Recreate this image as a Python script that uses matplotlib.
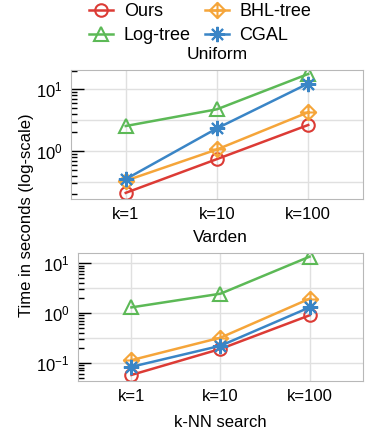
import numpy as np
import matplotlib
matplotlib.use('Agg')
import matplotlib.pyplot as plt
from matplotlib.path import Path
from matplotlib.ticker import LogLocator, NullFormatter

plt.rcParams['font.family'] = ['Liberation Sans', 'DejaVu Sans']
plt.rcParams['font.size'] = 12

# data
k_labels = ['k=1', 'k=10', 'k=100']

uniform_ours = [0.21, 0.74, 2.64]
uniform_log = [2.54, 4.74, 17.7]
uniform_bhl = [0.33, 1.06, 4.24]
uniform_cgal = [0.35, 2.33, 12.4]

varden_ours = [0.057, 0.19, 0.90]
varden_log = [1.30, 2.45, 13.6]
varden_bhl = [0.113, 0.32, 1.94]
varden_cgal = [0.083, 0.22, 1.30]

colors = {'Ours': '#dc3b35', 'Log-tree': '#5cb956',
          'BHL-tree': '#f5a53a', 'CGAL': '#3a85c6'}

# diamond with a plus inside
diamond_plus = Path(
    [(0, 1), (1, 0), (0, -1), (-1, 0), (0, 1), (0, 1), (0, -1), (-1, 0), (1, 0)],
    [Path.MOVETO, Path.LINETO, Path.LINETO, Path.LINETO, Path.CLOSEPOLY,
     Path.MOVETO, Path.LINETO, Path.MOVETO, Path.LINETO])

markers = {'Ours': 'o', 'Log-tree': '^', 'BHL-tree': diamond_plus, 'CGAL': (8, 2, 0)}
msizes = {'Ours': 9, 'Log-tree': 10, 'BHL-tree': 11, 'CGAL': 11}

fig = plt.figure(figsize=(3.69, 4.36), dpi=100)
ax1 = fig.add_axes([0.1924, 0.5436, 0.7913, 0.2958])
ax2 = fig.add_axes([0.2114, 0.1261, 0.7723, 0.2936])

datasets = [
    (ax1, 'Uniform', {'Ours': uniform_ours, 'Log-tree': uniform_log,
                      'BHL-tree': uniform_bhl, 'CGAL': uniform_cgal}, (0.167, 20.5)),
    (ax2, 'Varden', {'Ours': varden_ours, 'Log-tree': varden_log,
                     'BHL-tree': varden_bhl, 'CGAL': varden_cgal}, (0.043, 16.1)),
]

x = np.arange(len(k_labels))
handles = []
for ax, title, vals, ylim in datasets:
    hs = []
    for m in ['Ours', 'BHL-tree', 'Log-tree', 'CGAL']:
        h, = ax.plot(x, vals[m], color=colors[m], marker=markers[m], ms=msizes[m],
                     mfc='none', mec=colors[m], mew=1.5, lw=1.8, label=m)
        hs.append(h)
    handles = hs
    ax.set_yscale('log')
    ax.set_ylim(*ylim)
    ax.set_xlim(-0.6, 2.6)
    ax.set_xticks(x)
    ax.set_xticklabels(k_labels)
    ax.set_title(title, pad=8, fontsize=12.5)
    ax.yaxis.set_major_locator(LogLocator(base=10, numticks=10))
    ax.yaxis.set_minor_locator(LogLocator(base=10, subs=np.arange(2, 10), numticks=10))
    ax.yaxis.set_minor_formatter(NullFormatter())
    ax.tick_params(axis='y', which='major', direction='in', length=9, width=1, color='black', pad=6)
    ax.tick_params(axis='y', which='minor', direction='in', length=4, width=1, color='black')
    ax.tick_params(axis='x', which='both', length=0, pad=6)
    ax.grid(True, which='major', color='#e0e0e0', lw=1)
    lo, hi = np.floor(np.log10(ylim[0])), np.ceil(np.log10(ylim[1]))
    for e in np.arange(lo, hi) + 0.5:
        ax.axhline(10 ** e, color='#e0e0e0', lw=1, zorder=0)
    ax.set_axisbelow(True)
    for s in ax.spines.values():
        s.set_color('#b8b8b8')

ax2.set_xlabel('k-NN search', labelpad=8)
fig.text(0.073, 0.507, 'Time in seconds (log-scale)', rotation=90, ha='center', va='center')

order = [0, 2, 1, 3]
fig.legend([handles[i] for i in order], [handles[i].get_label() for i in order],
           loc='upper center', bbox_to_anchor=(0.543, 1.03), ncol=2, frameon=False,
           handlelength=1.3, columnspacing=0.8, handletextpad=0.6, labelspacing=0.4,
           fontsize=13)

fig.savefig('out.png', dpi=100)
